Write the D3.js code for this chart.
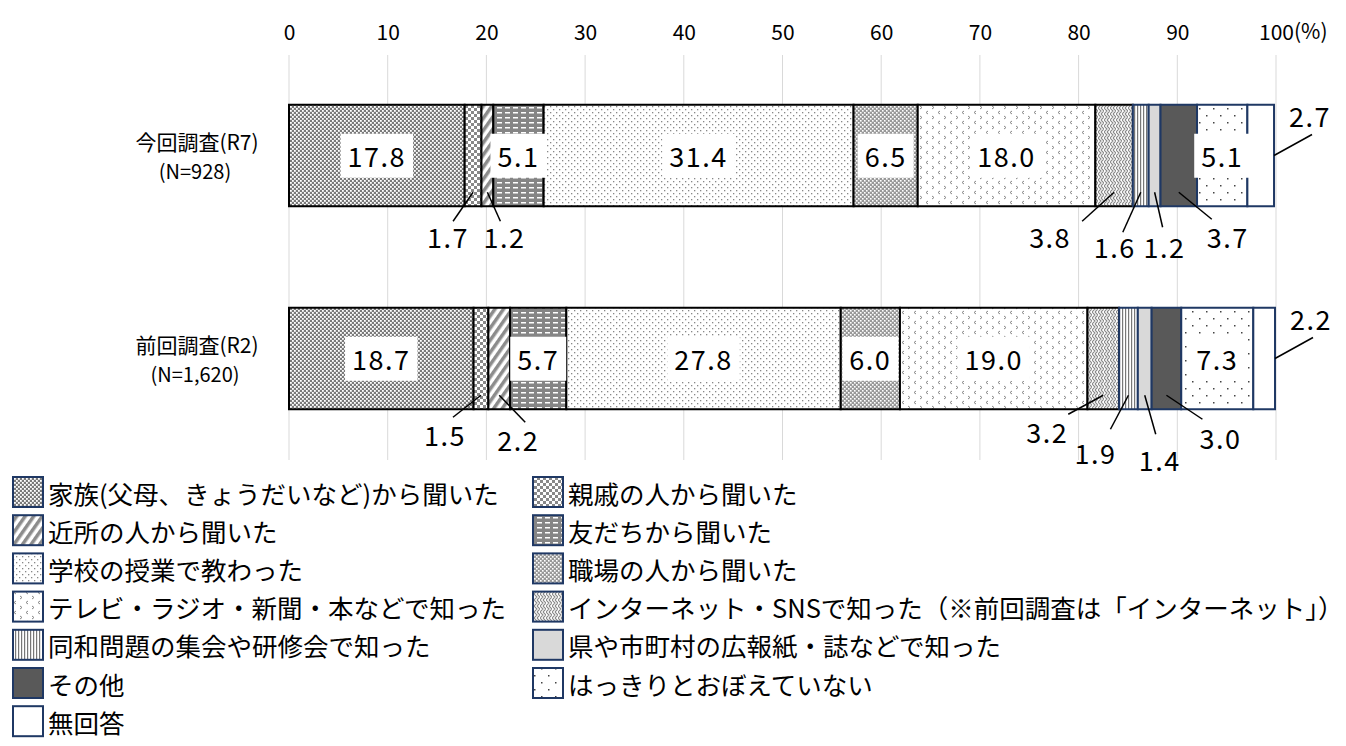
<!DOCTYPE html>
<meta charset="utf-8">
<style>
body { margin: 0; background: #fff; }
text { font-family: "Noto Sans CJK JP", "Noto Sans", sans-serif; fill: #000; }
.grid line { stroke: #d9d9d9; stroke-width: 1; }
</style>
<body>
<script src="https://cdn.jsdelivr.net/npm/d3@7"></script>
<script>

// data
var categories = ["今回調査(R7)", "前回調査(R2)"];
var sampleSizes = ["(N=928)", "(N=1,620)"];
var seriesNames = [
  "家族(父母、きょうだいなど)から聞いた", "親戚の人から聞いた",
  "近所の人から聞いた", "友だちから聞いた",
  "学校の授業で教わった", "職場の人から聞いた",
  "テレビ・ラジオ・新聞・本などで知った", "インターネット・SNSで知った（※前回調査は「インターネット」）",
  "同和問題の集会や研修会で知った", "県や市町村の広報紙・誌などで知った",
  "その他", "はっきりとおぼえていない",
  "無回答"
];
var valuesR7 = [17.8, 1.7, 1.2, 5.1, 31.4, 6.5, 18.0, 3.8, 1.6, 1.2, 3.7, 5.1, 2.7];
var valuesR2 = [18.7, 1.5, 2.2, 5.7, 27.8, 6.0, 19.0, 3.2, 1.9, 1.4, 3.0, 7.3, 2.2];
var tickValues = [0, 10, 20, 30, 40, 50, 60, 70, 80, 90, 100];

// leader label layout: label offset (lx,ly) and line end (ex,ey) relative to the anchor
var leaders = [
  {1: [-25, 44, -20, 29], 2: [17, 44, 13, 29], 7: [-64, 44, -32, 29], 8: [-26, 54, -18, 40],
   9: [10, 54, 8, 35], 10: [49, 44, 33, 27], 12: [36, -40, 38, -21]},
  {1: [-36, 39, -28, 22], 2: [19, 44, 26, 27], 7: [-56, 36, -35, 19], 8: [-33, 57, -18, 34],
   9: [15, 64, 11, 39], 10: [54, 42, 36, 24], 12: [36, -40, 38, -21]}
];

var width = 1346, height = 746;
var svg = d3.select("body").append("svg")
    .attr("width", width).attr("height", height);

// ---- patterns ----
var defs = svg.append("defs");
function pat(id, w, h) {
  return defs.append("pattern").attr("id", id).attr("patternUnits", "userSpaceOnUse")
      .attr("width", w).attr("height", h);
}
var p;
// 0 family: gray with white specks
p = pat("p0", 4, 4);
p.append("rect").attr("width", 4).attr("height", 4).attr("fill", "#7a7a7a");
p.append("rect").attr("x", 0).attr("y", 0).attr("width", 1.8).attr("height", 1.8).attr("fill", "#fff");
p.append("rect").attr("x", 2).attr("y", 2).attr("width", 1.8).attr("height", 1.8).attr("fill", "#fff");
// 1 relatives: large checker
p = pat("p1", 6, 6);
p.append("rect").attr("width", 6).attr("height", 6).attr("fill", "#fff");
p.append("rect").attr("x", 0).attr("y", 0).attr("width", 3).attr("height", 3).attr("fill", "#888");
p.append("rect").attr("x", 3).attr("y", 3).attr("width", 3).attr("height", 3).attr("fill", "#888");
// 2 neighbours: wide diagonal stripes
p = pat("p2", 7, 7).attr("patternTransform", "rotate(35)");
p.append("rect").attr("width", 7).attr("height", 7).attr("fill", "#fff");
p.append("rect").attr("width", 3.5).attr("height", 7).attr("fill", "#8c8c8c");
// 3 friends: gray with white dashes
p = pat("p3", 8, 5);
p.append("rect").attr("width", 8).attr("height", 5).attr("fill", "#858585");
p.append("rect").attr("x", 1).attr("y", 2).attr("width", 5).attr("height", 1.5).attr("fill", "#fff");
// 4 school: sparse dots
p = pat("p4", 6, 6);
p.append("rect").attr("width", 6).attr("height", 6).attr("fill", "#fff");
p.append("rect").attr("x", 1).attr("y", 1).attr("width", 1.3).attr("height", 1.3).attr("fill", "#888");
p.append("rect").attr("x", 4).attr("y", 4).attr("width", 1.3).attr("height", 1.3).attr("fill", "#888");
// 5 workplace: lighter checker
p = pat("p5", 4, 4);
p.append("rect").attr("width", 4).attr("height", 4).attr("fill", "#999");
p.append("rect").attr("x", 0).attr("y", 0).attr("width", 1.6).attr("height", 1.6).attr("fill", "#fff");
p.append("rect").attr("x", 2).attr("y", 2).attr("width", 1.6).attr("height", 1.6).attr("fill", "#fff");
// 6 tv/radio: small chevrons
p = pat("p6", 12, 10);
p.append("rect").attr("width", 12).attr("height", 10).attr("fill", "#fff");
p.append("path").attr("d", "M4,1 L2,2.5 L4,4 M8,6 L10,7.5 L8,9")
    .attr("fill", "none").attr("stroke", "#888").attr("stroke-width", 1);
// 7 internet: zigzag
p = pat("p7", 6, 6);
p.append("rect").attr("width", 6).attr("height", 6).attr("fill", "#fff");
p.append("path").attr("d", "M0,0 L3,3 L0,6 M3,0 L6,3 L3,6")
    .attr("fill", "none").attr("stroke", "#888").attr("stroke-width", 1.1);
// 8 dowa: vertical lines
p = pat("p8", 3, 3);
p.append("rect").attr("width", 3).attr("height", 3).attr("fill", "#fff");
p.append("rect").attr("x", 0).attr("width", 1.2).attr("height", 3).attr("fill", "#777");
// 11 don't remember: sparse dots
p = pat("p11", 14, 14);
p.append("rect").attr("width", 14).attr("height", 14).attr("fill", "#fff");
p.append("rect").attr("x", 2).attr("y", 3).attr("width", 1.5).attr("height", 1.5).attr("fill", "#444");
p.append("rect").attr("x", 9).attr("y", 10).attr("width", 1.5).attr("height", 1.5).attr("fill", "#444");

var fills = ["url(#p0)", "url(#p1)", "url(#p2)", "url(#p3)", "url(#p4)", "url(#p5)",
             "url(#p6)", "url(#p7)", "url(#p8)", "#d9d9d9", "#595959", "url(#p11)", "#fff"];
function strokeOf(i) { return i < 8 ? "#000" : "#1f3864"; }

// ---- scales ----
var x = d3.scaleLinear().domain([0, 100]).range([289, 1276]);
var y = d3.scaleBand().domain(categories).range([54, 460])
    .paddingInner(0.5).paddingOuter(0.25);

// grid
svg.append("g").attr("class", "grid")
  .selectAll("line").data(tickValues).enter().append("line")
    .attr("x1", function (d) { return x(d); }).attr("x2", function (d) { return x(d); })
    .attr("y1", 55).attr("y2", 460);

// top axis
var axis = svg.append("g").attr("transform", "translate(0,40)")
    .call(d3.axisTop(x).tickValues(tickValues).tickSize(0).tickPadding(0));
axis.select(".domain").remove();
axis.selectAll("text").attr("font-size", 21).attr("font-family", "Noto Sans CJK JP").attr("fill", "#000");
svg.append("text").attr("x", x(100) + 18).attr("y", 39).attr("font-size", 21).text("(%)");

// ---- stacked bars ----
var rows = categories.map(function (c, ci) {
  var r = {cat: c};
  var vals = ci === 0 ? valuesR7 : valuesR2;
  seriesNames.forEach(function (s, i) { r[s] = vals[i]; });
  return r;
});
var stacked = d3.stack().keys(seriesNames)(rows);

var gBars = svg.append("g");
stacked.forEach(function (layer, i) {
  gBars.selectAll(".s" + i).data(layer).enter().append("rect")
      .attr("x", function (d) { return x(d[0]); })
      .attr("width", function (d) { return x(d[1]) - x(d[0]); })
      .attr("y", function (d) { return y(d.data.cat); })
      .attr("height", y.bandwidth())
      .attr("fill", fills[i])
      .attr("stroke", strokeOf(i)).attr("stroke-width", 2);
});

// category labels
categories.forEach(function (c, ci) {
  var cy = y(c) + y.bandwidth() / 2;
  svg.append("text").attr("x", 197).attr("y", cy - 15).attr("text-anchor", "middle")
      .attr("dominant-baseline", "central").attr("font-size", 21).text(c);
  svg.append("text").attr("x", 195).attr("y", cy + 15).attr("text-anchor", "middle")
      .attr("dominant-baseline", "central").attr("font-size", 20).text(sampleSizes[ci]);
});

// value labels
var fmt = d3.format(".1f");
var gLab = svg.append("g");
stacked.forEach(function (layer, i) {
  layer.forEach(function (d, ci) {
    var v = d[1] - d[0];
    var top = y(d.data.cat), bottom = top + y.bandwidth();
    var mid = x((d[0] + d[1]) / 2);
    if (v >= 5) {
      var t = gLab.append("text").attr("x", mid).attr("y", top + y.bandwidth() / 2)
          .attr("text-anchor", "middle").attr("dominant-baseline", "central")
          .attr("font-size", 27).attr("letter-spacing", 1.5).text(fmt(v));
      var bb = t.node().getBBox();
      gLab.insert("rect", function () { return t.node(); })
          .attr("x", bb.x - 7).attr("y", top + 29).attr("width", bb.width + 14).attr("height", 44)
          .attr("fill", "#fff");
    } else {
      var L = leaders[ci][i];
      if (!L) return;
      var ax = i === 12 ? x(d[1]) : mid;
      var ay = i === 12 ? top + y.bandwidth() / 2 : bottom - 14;
      gLab.append("line").attr("x1", ax).attr("y1", ay)
          .attr("x2", ax + L[2]).attr("y2", ay + L[3])
          .attr("stroke", "#000").attr("stroke-width", 1.5);
      gLab.append("text").attr("x", ax + L[0]).attr("y", ay + L[1])
          .attr("text-anchor", "middle").attr("dominant-baseline", "central")
          .attr("font-size", 27).attr("letter-spacing", 1.5).text(fmt(v));
    }
  });
});

// ---- legend ----
var legend = svg.append("g");
seriesNames.forEach(function (s, i) {
  var col = i % 2, row = Math.floor(i / 2);
  var lx = col === 0 ? 13 : 533;
  var ly = 492 + row * 38.2;
  legend.append("rect").attr("x", lx).attr("y", ly - 15).attr("width", 30).attr("height", 30)
      .attr("fill", fills[i]).attr("stroke", "#1f3864").attr("stroke-width", 2);
  legend.append("text").attr("x", lx + 35).attr("y", ly).attr("dominant-baseline", "central")
      .attr("font-size", 25.5).text(s);
});

</script>
</body>
